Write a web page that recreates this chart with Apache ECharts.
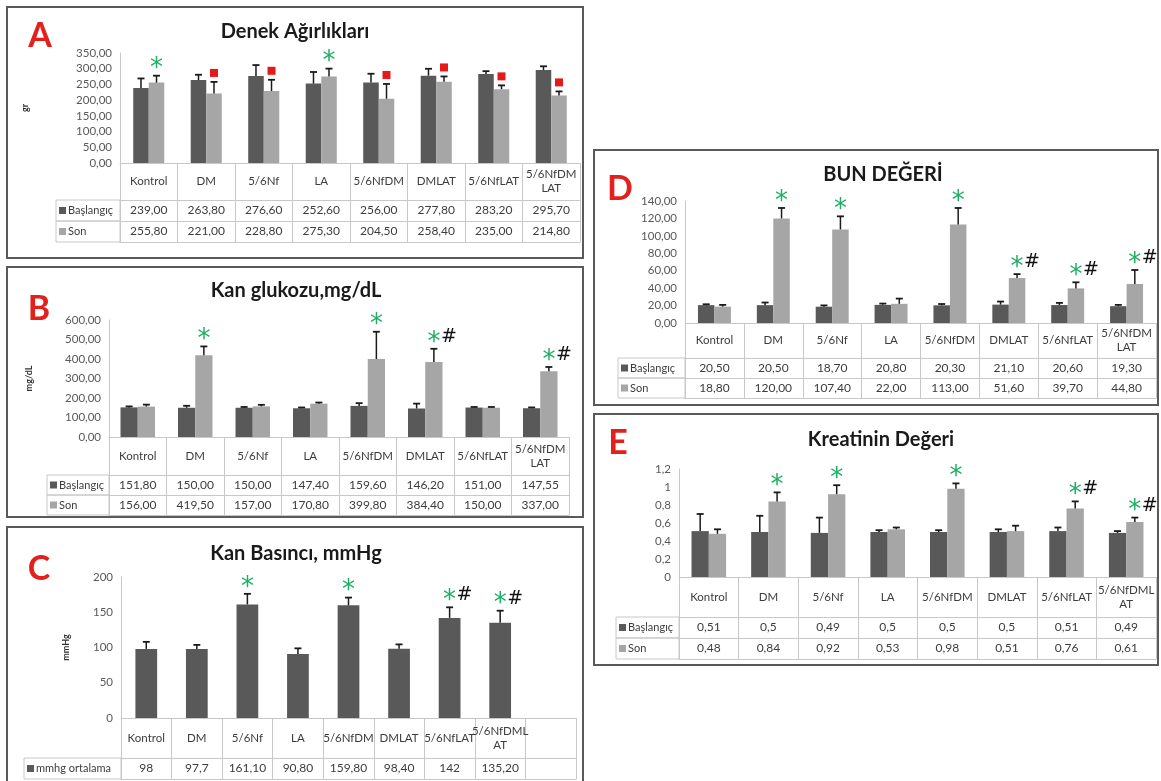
<!DOCTYPE html>
<html><head><meta charset="utf-8">
<script src="https://cdn.jsdelivr.net/npm/echarts@6/dist/echarts.min.js"></script>
<style>html,body{margin:0;padding:0;background:#fff}#c{width:1161px;height:781px}</style>
</head><body><div id="c"></div>
<script>
// ---------- DATA ----------
const categories  = ['Kontrol','DM','5/6Nf','LA','5/6NfDM','DMLAT','5/6NfLAT','5/6NfDM\nLAT'];
const categoriesE = ['Kontrol','DM','5/6Nf','LA','5/6NfDM','DMLAT','5/6NfLAT','5/6NfDML\nAT'];
const categoriesC = ['Kontrol','DM','5/6Nf','LA','5/6NfDM','DMLAT','5/6NfLAT','5/6NfDML\nAT',''];

const weightStart    = [239.00, 263.80, 276.60, 252.60, 256.00, 277.80, 283.20, 295.70];
const weightEnd      = [255.80, 221.00, 228.80, 275.30, 204.50, 258.40, 235.00, 214.80];
const weightStartErr = [30, 17, 35, 37, 28, 22, 9, 12];
const weightEndErr   = [22, 37, 36, 25, 47, 17, 12, 13];
const weightEndMarks = ['*','sq','sq','*','sq','sq','sq','sq'];

const glucoseStart    = [151.80, 150.00, 150.00, 147.40, 159.60, 146.20, 151.00, 147.55];
const glucoseEnd      = [156.00, 419.50, 157.00, 170.80, 399.80, 384.40, 150.00, 337.00];
const glucoseStartErr = [5, 10, 4, 4, 14, 25, 3, 4];
const glucoseEndErr   = [10, 45, 8, 6, 140, 68, 4, 22];
const glucoseEndMarks = ['','*','','','*','*#','','*#'];

const bp       = [98, 97.7, 161.10, 90.80, 159.80, 98.40, 142, 135.20];
const bpLabels = ['98','97,7','161,10','90,80','159,80','98,40','142','135,20'];
const bpErr    = [10, 6, 15, 8, 11, 6, 15, 17];
const bpMarks  = ['','','*','','*','','*#','*#'];

const bunStart    = [20.50, 20.50, 18.70, 20.80, 20.30, 21.10, 20.60, 19.30];
const bunEnd      = [18.80, 120.00, 107.40, 22.00, 113.00, 51.60, 39.70, 44.80];
const bunStartErr = [1, 3, 1.5, 1.5, 1.5, 3.5, 2.5, 1.5];
const bunEndErr   = [2, 12, 15, 6, 19, 4.5, 7, 16];
const bunEndMarks = ['','*','*','','*','*#','*#','*#'];

const creatStart    = [0.51, 0.5, 0.49, 0.5, 0.5, 0.5, 0.51, 0.49];
const creatEnd      = [0.48, 0.84, 0.92, 0.53, 0.98, 0.51, 0.76, 0.61];
const creatStartErr = [0.19, 0.18, 0.17, 0.02, 0.02, 0.03, 0.04, 0.02];
const creatEndErr   = [0.05, 0.10, 0.10, 0.02, 0.06, 0.06, 0.08, 0.05];
const creatEndMarks = ['','*','*','','*','','*#','*#'];

// ---------- STYLE ----------
const FONT = 'Lato, "Open Sans", sans-serif';
const DARK = '#595959', LIGHT = '#a6a6a6', LINE = '#c8c8c8', TXT = '#3c3c3c', TICK = '#595959';
const GREEN = '#1fae63', RED = '#e3191b';

const fmt2 = a => a.map(v => v.toFixed(2).replace('.', ','));
const fmtPlain = a => a.map(v => String(v).replace('.', ','));

const panels = [
  { letter:'A', title:'Denek Ağırlıkları', yName:'gr', cats:categories,
    yMax:350, yInt:50, yFmt:v => v.toFixed(2).replace('.', ','),
    series:[{name:'Başlangıç', vals:weightStart, errs:weightStartErr, marks:null, color:DARK},
            {name:'Son', vals:weightEnd, errs:weightEndErr, marks:weightEndMarks, color:LIGHT}],
    rows:[fmt2(weightStart), fmt2(weightEnd)],
    box:[7,7,576,251], letterPos:[40,36], titlePos:[295,32],
    grid:{left:120, top:53, width:460, height:110}, catH:37, rowH:21, legendLeft:56, barW:0.27, yNameGap:90 },
  { letter:'B', title:'Kan glukozu,mg/dL', yName:'mg/dL', cats:categories,
    yMax:600, yInt:100, yFmt:v => v.toFixed(2).replace('.', ','),
    series:[{name:'Başlangıç', vals:glucoseStart, errs:glucoseStartErr, marks:null, color:DARK},
            {name:'Son', vals:glucoseEnd, errs:glucoseEndErr, marks:glucoseEndMarks, color:LIGHT}],
    rows:[fmt2(glucoseStart), fmt2(glucoseEnd)],
    box:[7,267,576,250], letterPos:[39,309], titlePos:[296,291],
    grid:{left:109, top:320, width:460, height:117}, catH:38, rowH:20, legendLeft:47, barW:0.30, yNameGap:75 },
  { letter:'C', title:'Kan Basıncı, mmHg', yName:'mmHg', cats:categoriesC,
    yMax:200, yInt:50, yFmt:v => String(v),
    series:[{name:'mmhg ortalama', vals:bp, errs:bpErr, marks:bpMarks, color:DARK}],
    rows:[bpLabels],
    box:[7,527,576,270], letterPos:[39,569], titlePos:[296,554],
    grid:{left:121, top:577, width:455, height:141}, catH:40, rowH:21, legendLeft:24, barW:0.43, yNameGap:50 },
  { letter:'D', title:'BUN DEĞERİ', yName:'', cats:categories,
    yMax:140, yInt:20, yFmt:v => v.toFixed(2).replace('.', ','),
    series:[{name:'Başlangıç', vals:bunStart, errs:bunStartErr, marks:null, color:DARK},
            {name:'Son', vals:bunEnd, errs:bunEndErr, marks:bunEndMarks, color:LIGHT}],
    rows:[fmt2(bunStart), fmt2(bunEnd)],
    box:[594,150,564,255], letterPos:[620,189], titlePos:[883,175],
    grid:{left:685, top:201, width:471, height:122}, catH:35, rowH:20, legendLeft:618, barW:0.28, yNameGap:50 },
  { letter:'E', title:'Kreatinin Değeri', yName:'', cats:categoriesE,
    yMax:1.2, yInt:0.2, yFmt:v => String(Math.round(v * 10) / 10).replace('.', ','),
    series:[{name:'Başlangıç', vals:creatStart, errs:creatStartErr, marks:null, color:DARK},
            {name:'Son', vals:creatEnd, errs:creatEndErr, marks:creatEndMarks, color:LIGHT}],
    rows:[fmtPlain(creatStart), fmtPlain(creatEnd)],
    box:[594,414,564,251], letterPos:[618,443], titlePos:[881,440],
    grid:{left:679, top:469, width:477, height:108}, catH:40, rowH:21, legendLeft:616, barW:0.29, yNameGap:50 }
];

function makeErr(gi, xi, vals, errs, marks, frac) {
  return {
    type:'custom', xAxisIndex:xi, yAxisIndex:gi, z:5, clip:false, silent:true,
    data: vals.map((v, i) => [i, v, errs[i]]),
    encode:{x:0, y:1},
    renderItem(params, api) {
      const i = api.value(0), v = api.value(1), e = api.value(2);
      const band = api.size([1, 0])[0];
      const p0 = api.coord([i, v]);
      const p1 = api.coord([i, v + e]);
      const x = p0[0] + frac * band;
      const children = [
        {type:'line', shape:{x1:x, y1:p0[1], x2:x, y2:p1[1]}, style:{stroke:'#1a1a1a', lineWidth:1.5}},
        {type:'line', shape:{x1:x - 3.5, y1:p1[1], x2:x + 3.5, y2:p1[1]}, style:{stroke:'#1a1a1a', lineWidth:1.8}}
      ];
      const m = marks ? marks[params.dataIndex] : '';
      const cy = p1[1] - 12;
      if (m === '*' || m === '*#') {
        children.push({type:'text', x:x, y:cy + 6, style:{text:'*', fill:GREEN, font:'26px "DejaVu Sans"', align:'center', verticalAlign:'middle'}});
      }
      if (m === '*#') {
        children.push({type:'text', x:x + 7, y:cy, style:{text:'#', fill:'#111', font:'19px "DejaVu Sans"', align:'left', verticalAlign:'middle'}});
      }
      if (m === 'sq') {
        children.push({type:'rect', shape:{x:x - 4, y:p1[1] - 13, width:8, height:8}, style:{fill:RED}});
      }
      return {type:'group', children};
    }
  };
}

const option = {animation:false, backgroundColor:'#ffffff', grid:[], xAxis:[], yAxis:[], series:[], graphic:[]};

panels.forEach((p, gi) => {
  option.grid.push(Object.assign({}, p.grid, {outerBoundsMode:'none', containLabel:false}));
  const catIdx = option.xAxis.length;
  const lineCommon = {show:true, onZero:false, lineStyle:{color:LINE, width:1}};
  option.xAxis.push({
    type:'category', gridIndex:gi, data:p.cats, position:'bottom', offset:0,
    axisLine:lineCommon,
    axisTick:{show:true, length:p.catH, alignWithLabel:false, lineStyle:{color:LINE}},
    axisLabel:{interval:0, margin:p.catH / 2, verticalAlign:'middle', fontFamily:FONT, fontSize:11.5, color:TXT, lineHeight:14, hideOverlap:false},
    splitLine:{show:false}
  });
  p.rows.forEach((txt, r) => {
    option.xAxis.push({
      type:'category', gridIndex:gi, data:p.cats, position:'bottom', offset:p.catH + r * p.rowH,
      axisLine:lineCommon,
      axisTick:{show:true, length:p.rowH, alignWithLabel:false, lineStyle:{color:LINE}},
      axisLabel:{interval:0, margin:p.rowH / 2, verticalAlign:'middle', fontFamily:FONT, fontSize:12, color:TXT,
                 hideOverlap:false, formatter:(v, i) => (txt[i] !== undefined ? txt[i] : '')},
      splitLine:{show:false}
    });
  });
  option.xAxis.push({
    type:'category', gridIndex:gi, data:p.cats, position:'bottom', offset:p.catH + p.rows.length * p.rowH,
    axisLine:lineCommon, axisTick:{show:false}, axisLabel:{show:false}, splitLine:{show:false}
  });
  option.yAxis.push({
    type:'value', gridIndex:gi, min:0, max:p.yMax, interval:p.yInt,
    name:p.yName, nameLocation:'middle', nameRotate:90, nameGap:p.yNameGap, nameMoveOverlap:false,
    nameTextStyle:{fontFamily:FONT, fontWeight:'bold', fontSize:9, color:'#333'},
    axisLine:{show:true, lineStyle:{color:LINE}}, axisTick:{show:false}, splitLine:{show:false},
    axisLabel:{formatter:p.yFmt, fontFamily:FONT, fontSize:11.5, color:TICK, margin:8}
  });
  const n = p.series.length;
  p.series.forEach((s, si) => {
    const frac = n === 1 ? 0 : (si - (n - 1) / 2) * p.barW;
    option.series.push({type:'bar', name:s.name, xAxisIndex:catIdx, yAxisIndex:gi, data:s.vals,
      barWidth:(p.barW * 100) + '%', barGap:'0%', itemStyle:{color:s.color}, z:2, silent:true});
    option.series.push(makeErr(gi, catIdx, s.vals, s.errs, s.marks, frac));
  });
  // panel frame, letter, title
  option.graphic.push({type:'rect', shape:{x:p.box[0], y:p.box[1], width:p.box[2], height:p.box[3]},
    style:{fill:'none', stroke:'#5a5a5a', lineWidth:2}, z:1});
  option.graphic.push({type:'text', x:p.letterPos[0], y:p.letterPos[1],
    style:{text:p.letter, fill:'#e2211c', font:'bold 34px Lato', align:'center', verticalAlign:'middle'}});
  option.graphic.push({type:'text', x:p.titlePos[0], y:p.titlePos[1],
    style:{text:p.title, fill:'#1a1a1a', font:'bold 20px Lato', align:'center', verticalAlign:'middle'}});
  // legend column of the data table
  const tBase = p.grid.top + p.grid.height + p.catH;
  p.series.forEach((s, r) => {
    const y = tBase + r * p.rowH;
    option.graphic.push({type:'rect', shape:{x:p.legendLeft, y:y, width:p.grid.left - p.legendLeft, height:p.rowH},
      style:{fill:'none', stroke:LINE, lineWidth:1}});
    option.graphic.push({type:'rect', shape:{x:p.legendLeft + 3, y:y + p.rowH / 2 - 3.5, width:7, height:7}, style:{fill:s.color}});
    option.graphic.push({type:'text', x:p.legendLeft + 12, y:y + p.rowH / 2,
      style:{text:s.name, fill:TXT, font:'11px Lato', align:'left', verticalAlign:'middle'}});
  });
});

const chart = echarts.init(document.getElementById('c'), null, {renderer:'canvas'});
chart.setOption(option);
</script>
</body></html>
